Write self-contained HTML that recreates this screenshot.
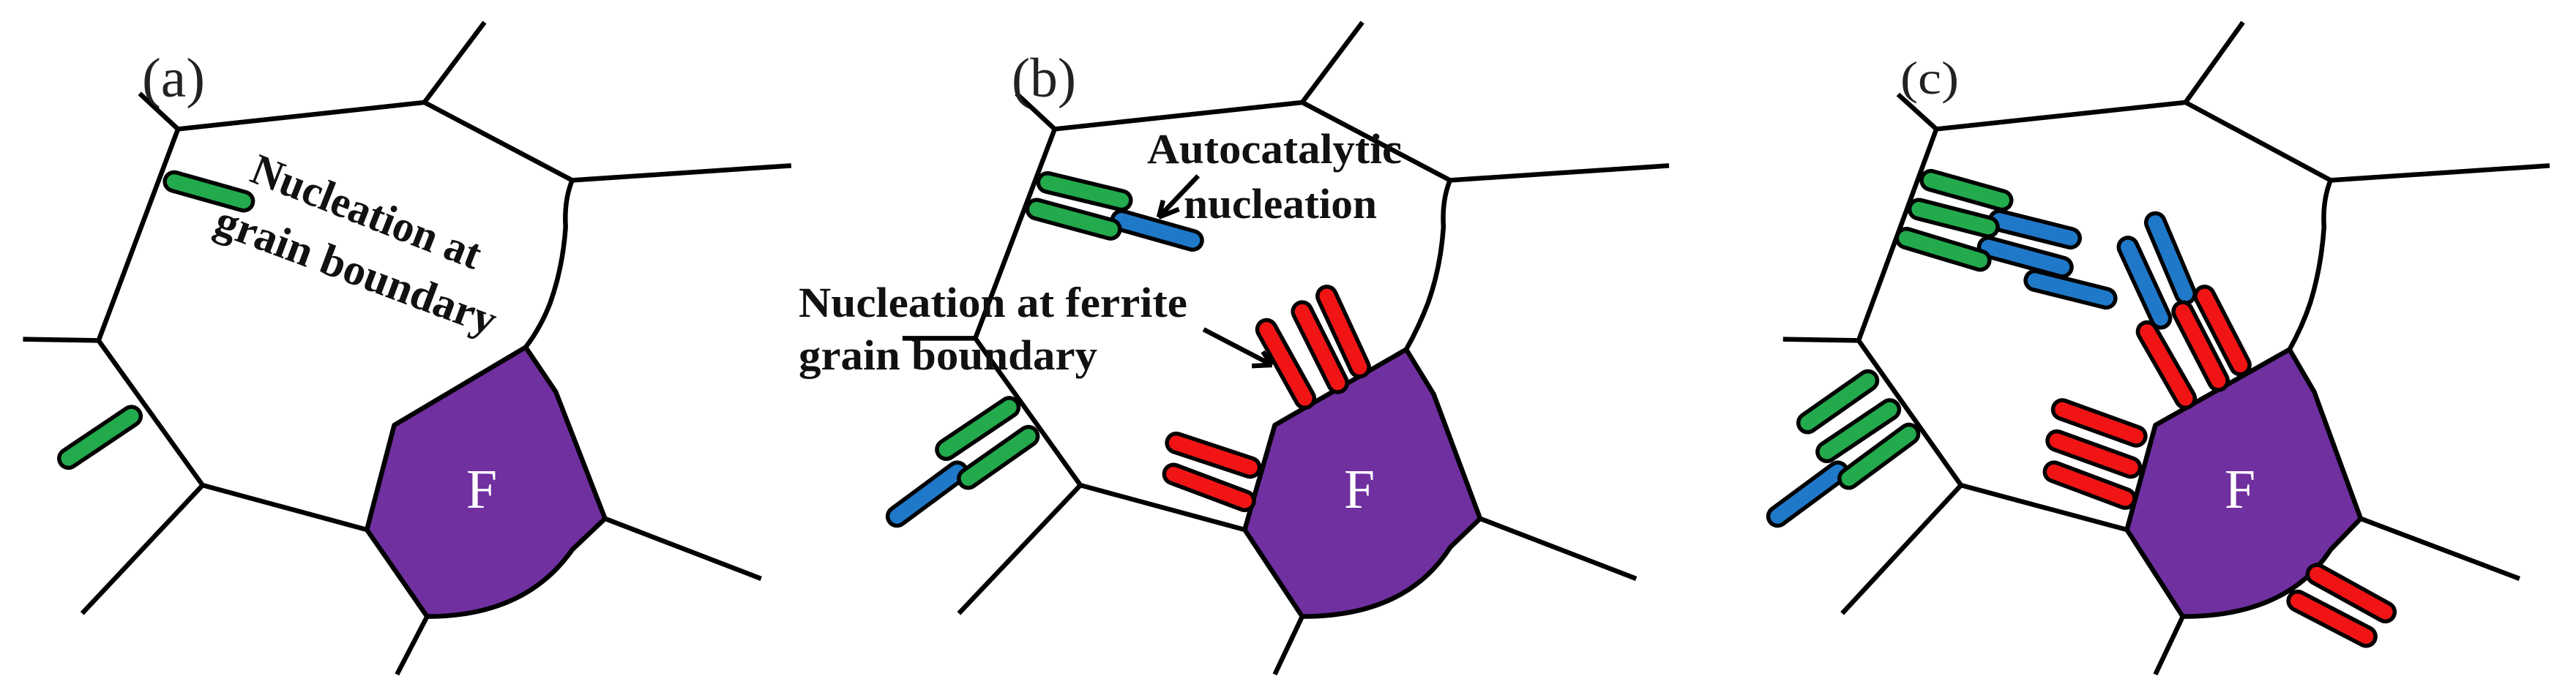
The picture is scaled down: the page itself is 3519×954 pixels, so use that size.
<!DOCTYPE html>
<html><head><meta charset="utf-8"><style>
html,body{margin:0;padding:0;background:#fff;}
svg{display:block;}
.t{font-family:"Liberation Serif",serif;font-weight:bold;fill:#111;}
.lbl{font-family:"Liberation Serif",serif;fill:#222;}
</style></head><body>
<svg width="3519" height="954" viewBox="0 0 3519 954" xmlns="http://www.w3.org/2000/svg">
<defs>
<style>
.ln{fill:none;stroke:#000;stroke-width:6.5;vector-effect:non-scaling-stroke;stroke-linejoin:round;}
.fp{fill:#7030a0;stroke:#000;stroke-width:6.5;vector-effect:non-scaling-stroke;stroke-linejoin:round;}
.o{stroke:#000;stroke-width:31;stroke-linecap:round;vector-effect:non-scaling-stroke;}
.g{stroke:#22aa4c;stroke-width:20;stroke-linecap:round;vector-effect:non-scaling-stroke;}
.b{stroke:#1f78c8;stroke-width:20;stroke-linecap:round;vector-effect:non-scaling-stroke;}
.r{stroke:#f01414;stroke-width:20;stroke-linecap:round;vector-effect:non-scaling-stroke;}
</style>
</defs>

<!-- Panel A -->
<g transform="translate(0,0) scale(0.748,0.6084)">
<path class="ln" d="M255,210 L325,290 L775,230 L885,50 M775,230 L1045,405 L1445,372 M1045,405 Q1030,450 1033,510 Q1028,600 1005,680 Q988,735 960,780 M325,290 L180,765 L42,762 M180,765 L370,1090 L150,1378 M370,1090 L670,1190 M1105,1165 L1390,1300 M780,1385 L725,1515"/>
<path class="fp" d="M960,780 L1015,880 L1105,1165 L1045,1235 Q960,1385 780,1385 L670,1190 L720,955 Z"/>
<line class="o" x1="318" y1="408" x2="445" y2="452"/><line class="g" x1="318" y1="408" x2="445" y2="452"/>
<line class="o" x1="125" y1="1030" x2="240" y2="935"/><line class="g" x1="125" y1="1030" x2="240" y2="935"/>
</g>
<text class="lbl" x="194" y="132" font-size="76" textLength="86" lengthAdjust="spacingAndGlyphs">(a)</text>
<text class="lbl" x="658" y="694" font-size="76" style="fill:#fff" text-anchor="middle">F</text>
<text class="t" font-size="60" transform="translate(339,247) rotate(21.5)" textLength="332" lengthAdjust="spacingAndGlyphs">Nucleation at</text>
<text class="t" font-size="60" transform="translate(290,317) rotate(20.5)" textLength="405" lengthAdjust="spacingAndGlyphs">grain boundary</text>

<!-- Panel B -->
<g transform="translate(1173,0) scale(0.748,0.6084)">
<path class="ln" d="M288,210 L358,290 L810,230 L920,50 M810,230 L1080,405 L1480,372 M1080,405 Q1065,450 1068,510 Q1063,600 1040,680 Q1023,735 1000,785 M358,290 L213,760 L80,760 M213,760 L405,1090 L183,1378 M405,1090 L705,1190 M1135,1165 L1420,1300 M810,1385 L760,1515"/>
<path class="fp" d="M1000,785 L1050,885 L1135,1165 L1080,1230 Q1000,1385 810,1385 L705,1190 L760,955 Z"/>
<line class="o" x1="345" y1="410" x2="480" y2="450"/><line class="g" x1="345" y1="410" x2="480" y2="450"/>
<line class="o" x1="480" y1="495" x2="610" y2="540"/><line class="b" x1="480" y1="495" x2="610" y2="540"/>
<line class="o" x1="325" y1="470" x2="460" y2="515"/><line class="g" x1="325" y1="470" x2="460" y2="515"/>
<line class="o" x1="160" y1="1010" x2="275" y2="915"/><line class="g" x1="160" y1="1010" x2="275" y2="915"/>
<line class="o" x1="70" y1="1160" x2="180" y2="1060"/><line class="b" x1="70" y1="1160" x2="180" y2="1060"/>
<line class="o" x1="200" y1="1075" x2="310" y2="980"/><line class="g" x1="200" y1="1075" x2="310" y2="980"/>
<line class="o" x1="745" y1="740" x2="815" y2="895"/><line class="r" x1="745" y1="740" x2="815" y2="895"/>
<line class="o" x1="810" y1="700" x2="875" y2="860"/><line class="r" x1="810" y1="700" x2="875" y2="860"/>
<line class="o" x1="855" y1="665" x2="915" y2="825"/><line class="r" x1="855" y1="665" x2="915" y2="825"/>
<line class="o" x1="580" y1="995" x2="715" y2="1050"/><line class="r" x1="580" y1="995" x2="715" y2="1050"/>
<line class="o" x1="575" y1="1065" x2="705" y2="1125"/><line class="r" x1="575" y1="1065" x2="705" y2="1125"/>
<path class="ln" d="M620,395 L548,488 M548,488 L556,450 M548,488 L585,470"/>
<path class="ln" d="M630,740 L755,820 M755,820 L718,822 M755,820 L738,790"/>
</g>
<text class="lbl" x="1382" y="132" font-size="76" textLength="88" lengthAdjust="spacingAndGlyphs">(b)</text>
<text class="lbl" x="1857" y="694" font-size="76" style="fill:#fff" text-anchor="middle">F</text>
<text class="t" x="1567" y="223" font-size="58" textLength="348" lengthAdjust="spacingAndGlyphs">Autocatalytic</text>
<text class="t" x="1617" y="298" font-size="58" textLength="264" lengthAdjust="spacingAndGlyphs">nucleation</text>
<text class="t" x="1091" y="433" font-size="58" textLength="531" lengthAdjust="spacingAndGlyphs">Nucleation at ferrite</text>
<text class="t" x="1091" y="505" font-size="58" textLength="408" lengthAdjust="spacingAndGlyphs">grain boundary</text>

<!-- Panel C -->
<g transform="translate(2346,0) scale(0.748,0.6084)">
<path class="ln" d="M330,212 L400,290 L855,230 L960,50 M855,230 L1120,405 L1520,372 M1120,405 Q1105,450 1108,510 Q1103,600 1083,680 Q1068,735 1045,785 M400,290 L258,765 L120,762 M258,765 L445,1090 L228,1378 M445,1090 L748,1190 M1175,1165 L1465,1300 M850,1385 L800,1515"/>
<path class="fp" d="M1045,785 L1090,880 L1175,1165 L1120,1235 Q1040,1385 850,1385 L748,1190 L800,955 Z"/>
<line class="o" x1="390" y1="405" x2="520" y2="450"/><line class="g" x1="390" y1="405" x2="520" y2="450"/>
<line class="o" x1="515" y1="495" x2="645" y2="535"/><line class="b" x1="515" y1="495" x2="645" y2="535"/>
<line class="o" x1="368" y1="470" x2="495" y2="510"/><line class="g" x1="368" y1="470" x2="495" y2="510"/>
<line class="o" x1="580" y1="630" x2="710" y2="670"/><line class="b" x1="580" y1="630" x2="710" y2="670"/>
<line class="o" x1="495" y1="555" x2="630" y2="600"/><line class="b" x1="495" y1="555" x2="630" y2="600"/>
<line class="o" x1="345" y1="535" x2="480" y2="585"/><line class="g" x1="345" y1="535" x2="480" y2="585"/>
<line class="o" x1="750" y1="555" x2="810" y2="715"/><line class="b" x1="750" y1="555" x2="810" y2="715"/>
<line class="o" x1="800" y1="500" x2="855" y2="660"/><line class="b" x1="800" y1="500" x2="855" y2="660"/>
<line class="o" x1="785" y1="745" x2="855" y2="895"/><line class="r" x1="785" y1="745" x2="855" y2="895"/>
<line class="o" x1="850" y1="700" x2="915" y2="855"/><line class="r" x1="850" y1="700" x2="915" y2="855"/>
<line class="o" x1="890" y1="665" x2="955" y2="820"/><line class="r" x1="890" y1="665" x2="955" y2="820"/>
<line class="o" x1="630" y1="920" x2="765" y2="980"/><line class="r" x1="630" y1="920" x2="765" y2="980"/>
<line class="o" x1="620" y1="990" x2="755" y2="1050"/><line class="r" x1="620" y1="990" x2="755" y2="1050"/>
<line class="o" x1="615" y1="1060" x2="745" y2="1120"/><line class="r" x1="615" y1="1060" x2="745" y2="1120"/>
<line class="o" x1="1095" y1="1290" x2="1220" y2="1375"/><line class="r" x1="1095" y1="1290" x2="1220" y2="1375"/>
<line class="o" x1="1060" y1="1350" x2="1185" y2="1430"/><line class="r" x1="1060" y1="1350" x2="1185" y2="1430"/>
<line class="o" x1="165" y1="950" x2="275" y2="855"/><line class="g" x1="165" y1="950" x2="275" y2="855"/>
<line class="o" x1="110" y1="1160" x2="220" y2="1060"/><line class="b" x1="110" y1="1160" x2="220" y2="1060"/>
<line class="o" x1="200" y1="1015" x2="315" y2="920"/><line class="g" x1="200" y1="1015" x2="315" y2="920"/>
<line class="o" x1="240" y1="1075" x2="350" y2="975"/><line class="g" x1="240" y1="1075" x2="350" y2="975"/>
</g>
<text class="lbl" x="2596" y="128" font-size="64" textLength="80" lengthAdjust="spacingAndGlyphs">(c)</text>
<text class="lbl" x="3060" y="694" font-size="76" style="fill:#fff" text-anchor="middle">F</text>
</svg>
</body></html>
